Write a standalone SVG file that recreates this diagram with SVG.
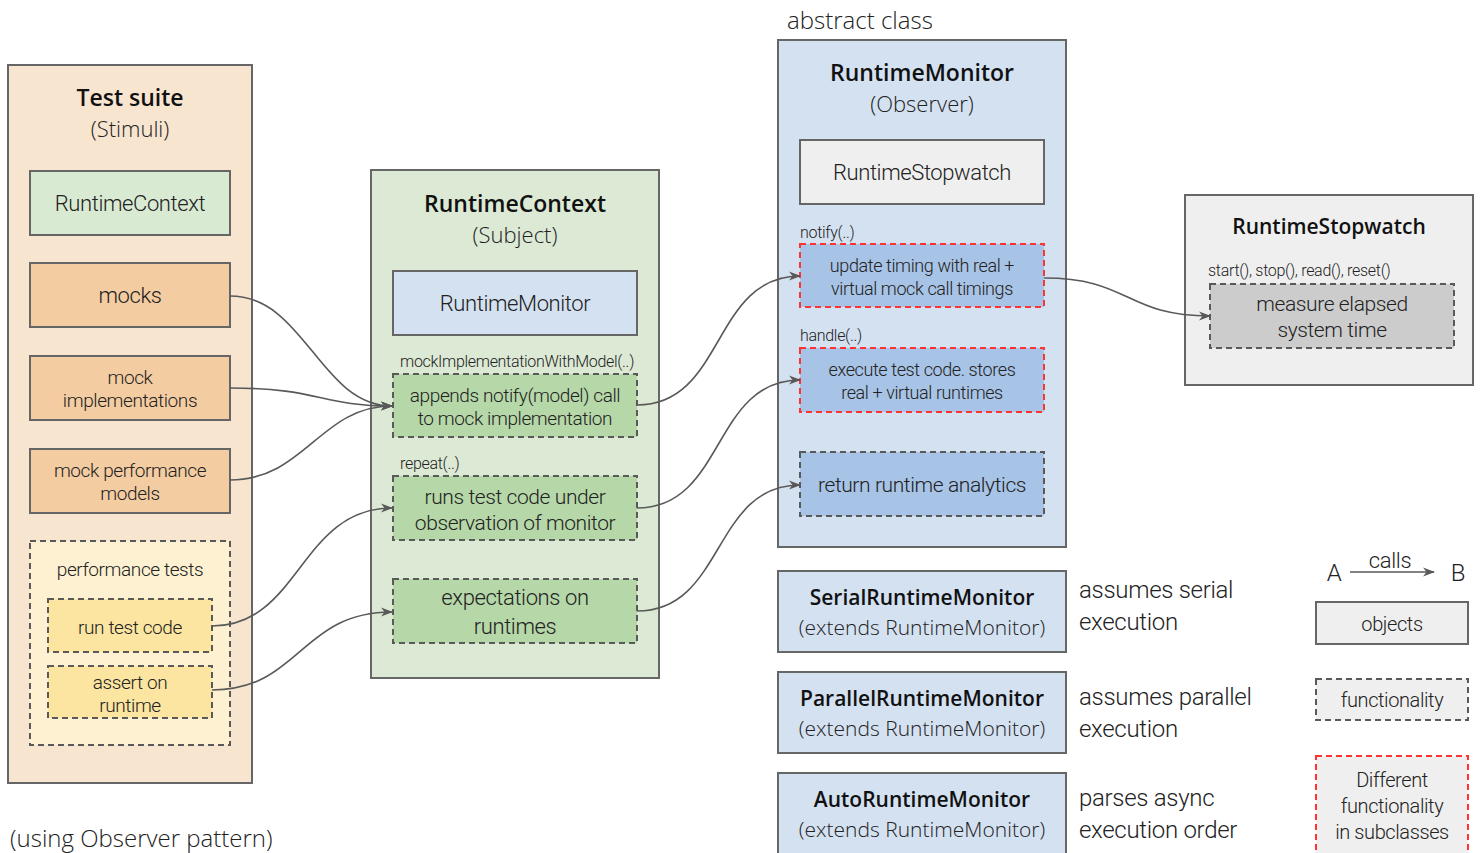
<svg xmlns="http://www.w3.org/2000/svg" width="1480" height="853" viewBox="0 0 1480 853">
  <style>
    .box { stroke: #666666; stroke-width: 2; }
    .dash { stroke: #595959; stroke-width: 2; stroke-dasharray: 6 4; }
    .rdash { stroke: #ff3333; stroke-width: 2; stroke-dasharray: 6 4; }
    .title { font-family: "Open Sans", "Noto Sans", sans-serif; font-weight: 600; fill: #111111; text-anchor: middle; }
    .sub { font-family: "Open Sans", "Noto Sans", sans-serif; font-weight: 300; fill: #222222; text-anchor: middle; }
    .t { font-family: Roboto, "Liberation Sans", sans-serif; font-weight: 300; fill: #222222; text-anchor: middle; letter-spacing: -0.4px; }
    .lbl { font-family: Roboto, "Liberation Sans", sans-serif; font-weight: 300; fill: #222222; letter-spacing: -0.3px; }
    .edge { fill: none; stroke: #595959; stroke-width: 1.6; marker-end: url(#arr); }
  </style>
  <defs>
    <marker id="arr" viewBox="0 0 12 10" refX="11" refY="5" markerWidth="12" markerHeight="10" markerUnits="userSpaceOnUse" orient="auto">
      <path d="M0,0.5 L12,5 L0,9.5 L3.5,5 Z" fill="#595959"/>
    </marker>
  </defs>
  <rect width="1480" height="853" fill="#ffffff"/>

  <!-- Test suite (stimuli) -->
  <g id="test-suite">
    <rect class="box" x="8" y="65" width="244" height="718" fill="#f8e5d0"/>
    <text class="title" x="130" y="106" font-size="23">Test suite</text>
    <text class="sub" x="130" y="137" font-size="22">(Stimuli)</text>
  </g>
  <g id="ts-runtimecontext">
    <rect class="box" x="30" y="171" width="200" height="64" fill="#d9ead3"/>
    <text class="t" x="130" y="211" font-size="22">RuntimeContext</text>
  </g>
  <g id="ts-mocks">
    <rect class="box" x="30" y="263" width="200" height="64" fill="#f4cca1"/>
    <text class="t" x="130" y="303" font-size="22">mocks</text>
  </g>
  <g id="ts-mock-impl">
    <rect class="box" x="30" y="356" width="200" height="64" fill="#f4cca1"/>
    <text class="t" x="130" y="384" font-size="19">mock</text>
    <text class="t" x="130" y="407" font-size="19">implementations</text>
  </g>
  <g id="ts-mock-perf">
    <rect class="box" x="30" y="449" width="200" height="64" fill="#f4cca1"/>
    <text class="t" x="130" y="477" font-size="19">mock performance</text>
    <text class="t" x="130" y="500" font-size="19">models</text>
  </g>
  <g id="ts-perf-tests">
    <rect class="dash" x="30" y="541" width="200" height="204" fill="#fdf1d1"/>
    <text class="t" x="130" y="576" font-size="19">performance tests</text>
  </g>
  <g id="ts-run-test">
    <rect class="dash" x="48" y="599" width="164" height="53" fill="#fbe5a1"/>
    <text class="t" x="130" y="634" font-size="19">run test code</text>
  </g>
  <g id="ts-assert">
    <rect class="dash" x="48" y="666" width="164" height="52" fill="#fbe5a1"/>
    <text class="t" x="130" y="689" font-size="19">assert on</text>
    <text class="t" x="130" y="712" font-size="19">runtime</text>
  </g>

  <!-- RuntimeContext (subject) -->
  <g id="runtime-context">
    <rect class="box" x="371" y="170" width="288" height="508" fill="#dce9d5"/>
    <text class="title" x="515" y="212" font-size="23">RuntimeContext</text>
    <text class="sub" x="515" y="243" font-size="22">(Subject)</text>
  </g>
  <g id="rc-monitor">
    <rect class="box" x="393" y="271" width="244" height="64" fill="#d4e1f1"/>
    <text class="t" x="515" y="311" font-size="22">RuntimeMonitor</text>
  </g>
  <g id="rc-appends">
    <text class="lbl" x="400" y="367" font-size="16">mockImplementationWithModel(..)</text>
    <rect class="dash" x="393" y="374" width="244" height="63" fill="#b6d7a8"/>
    <text class="t" x="515" y="402" font-size="19">appends notify(model) call</text>
    <text class="t" x="515" y="425" font-size="19">to mock implementation</text>
  </g>
  <g id="rc-repeat">
    <text class="lbl" x="400" y="469" font-size="16">repeat(..)</text>
    <rect class="dash" x="393" y="476" width="244" height="64" fill="#b6d7a8"/>
    <text class="t" x="515" y="504" font-size="21">runs test code under</text>
    <text class="t" x="515" y="530" font-size="21">observation of monitor</text>
  </g>
  <g id="rc-expect">
    <rect class="dash" x="393" y="579" width="244" height="64" fill="#b6d7a8"/>
    <text class="t" x="515" y="605" font-size="22">expectations on</text>
    <text class="t" x="515" y="634" font-size="22">runtimes</text>
  </g>

  <!-- RuntimeMonitor (observer) -->
  <g id="runtime-monitor">
    <text class="sub" x="787" y="29" font-size="24" style="text-anchor:start">abstract class</text>
    <rect class="box" x="778" y="40" width="288" height="507" fill="#d4e1f1"/>
    <text class="title" x="922" y="81" font-size="23">RuntimeMonitor</text>
    <text class="sub" x="922" y="112" font-size="22">(Observer)</text>
  </g>
  <g id="rm-stopwatch">
    <rect class="box" x="800" y="140" width="244" height="64" fill="#efefef"/>
    <text class="t" x="922" y="180" font-size="22">RuntimeStopwatch</text>
  </g>
  <g id="rm-notify">
    <text class="lbl" x="800" y="238" font-size="16">notify(..)</text>
    <rect class="rdash" x="800" y="244" width="244" height="63" fill="#a7c3e6"/>
    <text class="t" x="922" y="272" font-size="18">update timing with real +</text>
    <text class="t" x="922" y="295" font-size="18">virtual mock call timings</text>
  </g>
  <g id="rm-handle">
    <text class="lbl" x="800" y="341" font-size="16">handle(..)</text>
    <rect class="rdash" x="800" y="348" width="244" height="64" fill="#a7c3e6"/>
    <text class="t" x="922" y="376" font-size="18">execute test code. stores</text>
    <text class="t" x="922" y="399" font-size="18">real + virtual runtimes</text>
  </g>
  <g id="rm-analytics">
    <rect class="dash" x="800" y="452" width="244" height="64" fill="#a7c3e6"/>
    <text class="t" x="922" y="492" font-size="21">return runtime analytics</text>
  </g>

  <!-- Subclasses -->
  <g id="serial-monitor">
    <rect class="box" x="778" y="571" width="288" height="81" fill="#d4e1f1"/>
    <text class="title" x="922" y="605" font-size="21">SerialRuntimeMonitor</text>
    <text class="sub" x="922" y="635" font-size="21">(extends RuntimeMonitor)</text>
    <text class="lbl" x="1079" y="598" font-size="24">assumes serial</text>
    <text class="lbl" x="1079" y="630" font-size="24">execution</text>
  </g>
  <g id="parallel-monitor">
    <rect class="box" x="778" y="672" width="288" height="81" fill="#d4e1f1"/>
    <text class="title" x="922" y="706" font-size="21">ParallelRuntimeMonitor</text>
    <text class="sub" x="922" y="736" font-size="21">(extends RuntimeMonitor)</text>
    <text class="lbl" x="1079" y="705" font-size="24">assumes parallel</text>
    <text class="lbl" x="1079" y="737" font-size="24">execution</text>
  </g>
  <g id="auto-monitor">
    <rect class="box" x="778" y="773" width="288" height="90" fill="#d4e1f1"/>
    <text class="title" x="922" y="807" font-size="21">AutoRuntimeMonitor</text>
    <text class="sub" x="922" y="837" font-size="21">(extends RuntimeMonitor)</text>
    <text class="lbl" x="1079" y="806" font-size="24">parses async</text>
    <text class="lbl" x="1079" y="838" font-size="24">execution order</text>
  </g>

  <!-- RuntimeStopwatch -->
  <g id="runtime-stopwatch">
    <rect class="box" x="1185" y="195" width="288" height="190" fill="#efefef"/>
    <text class="title" x="1329" y="234" font-size="21">RuntimeStopwatch</text>
  </g>
  <g id="sw-measure">
    <text class="lbl" x="1208" y="276" font-size="16">start(), stop(), read(), reset()</text>
    <rect class="dash" x="1210" y="284" width="244" height="64" fill="#cccccc"/>
    <text class="t" x="1332" y="311" font-size="21">measure elapsed</text>
    <text class="t" x="1332" y="337" font-size="21">system time</text>
  </g>

  <!-- Legend -->
  <g id="legend-calls">
    <text class="lbl" x="1334" y="581" font-size="24" style="text-anchor:middle">A</text>
    <text class="lbl" x="1390" y="568" font-size="22" style="text-anchor:middle">calls</text>
    <text class="lbl" x="1458" y="581" font-size="24" style="text-anchor:middle">B</text>
  </g>
  <g id="legend-objects">
    <rect class="box" x="1316" y="602" width="152" height="42" fill="#efefef"/>
    <text class="t" x="1392" y="631" font-size="20">objects</text>
  </g>
  <g id="legend-functionality">
    <rect class="dash" x="1316" y="679" width="152" height="41" fill="#efefef"/>
    <text class="t" x="1392" y="707" font-size="20">functionality</text>
  </g>
  <g id="legend-subclass">
    <rect class="rdash" x="1316" y="756" width="152" height="110" fill="#efefef"/>
    <text class="t" x="1392" y="787" font-size="20">Different</text>
    <text class="t" x="1392" y="813" font-size="20">functionality</text>
    <text class="t" x="1392" y="839" font-size="20">in subclasses</text>
  </g>

  <text class="sub" x="10" y="847" font-size="24" style="text-anchor:start">(using Observer pattern)</text>

  <!-- Connectors -->
  <g id="connectors">
    <path class="edge" d="M1350,572 L1434,572"/>
    <path class="edge" d="M230,296 C305,296 320,406 392,406"/>
    <path class="edge" d="M230,388 C320,388 320,406 392,406"/>
    <path class="edge" d="M230,480 C305,480 320,406 392,406"/>
    <path class="edge" d="M212,626 C300,626 300,508 392,508"/>
    <path class="edge" d="M212,690 C300,690 300,612 392,612"/>
    <path class="edge" d="M637,405 C725,405 712,276 800,276"/>
    <path class="edge" d="M637,508 C725,508 712,380 800,380"/>
    <path class="edge" d="M637,611 C725,611 712,485 800,485"/>
    <path class="edge" d="M1044,278 C1130,278 1125,316 1210,316"/>
  </g>
</svg>
